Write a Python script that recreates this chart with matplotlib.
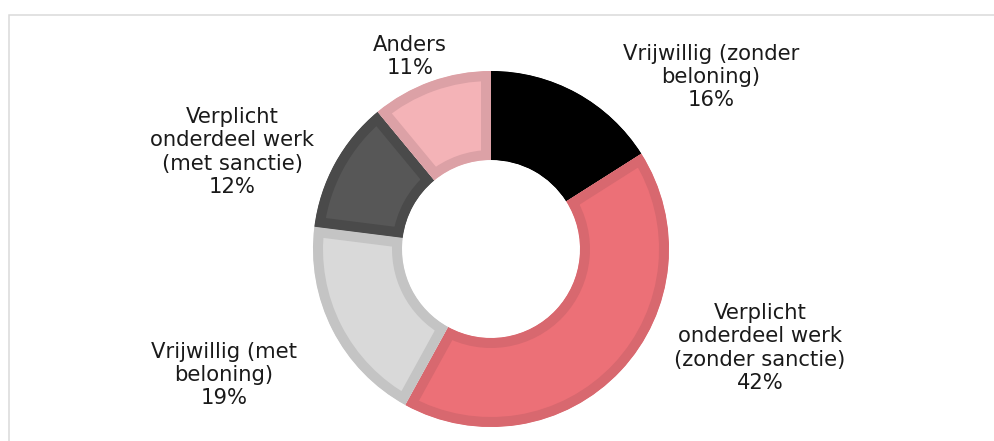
import matplotlib
matplotlib.use("Agg")
import matplotlib.pyplot as plt

# ---- data ----
categories = [
    "Vrijwillig (zonder\nbeloning)",
    "Verplicht\nonderdeel werk\n(zonder sanctie)",
    "Vrijwillig (met\nbeloning)",
    "Verplicht\nonderdeel werk\n(met sanctie)",
    "Anders",
]
values = [16, 42, 19, 12, 11]

# ---- styles ----
fill_colors = ["#000000", "#EC7077", "#D9D9D9", "#575757", "#F4B3B7"]
edge_colors = ["#000000", "#D8686F", "#C4C4C4", "#4A4A4A", "#DCA1A6"]
# label block centres in pixel coordinates (x, y from top)
label_pos = [(711, 77), (760, 348), (224, 375), (232, 152), (410, 56.5)]

W, H = 994, 441
DPI = 100
fig = plt.figure(figsize=(W / DPI, H / DPI), dpi=DPI)
ax = fig.add_axes([0, 0, 1, 1])

cx, cy = 491, H - 249
R_out, R_in = 178, 89
border_px = 10

wedges, _ = ax.pie(
    values,
    colors=fill_colors,
    startangle=90,
    counterclock=False,
    center=(cx, cy),
    radius=R_out,
    wedgeprops=dict(width=R_out - R_in),
)
for w, ec in zip(wedges, edge_colors):
    w.set_edgecolor(ec)
    w.set_linewidth(2 * border_px * 72 / DPI)
    w.set_joinstyle("miter")
    w.set_clip_path(w)
    w.set_clip_on(True)

for (x, y), cat, v in zip(label_pos, categories, values):
    ax.text(x, H - y, f"{cat}\n{v}%", ha="center", va="center",
            fontsize=15.2, color="#1a1a1a", linespacing=1.2,
            family="DejaVu Sans")

# frame (top and left edges visible)
ax.plot([8.5, 8.5, W + 5], [-5, H - 15, H - 15], color="#D9D9D9",
        lw=1.5 * 72 / DPI, solid_joinstyle="miter", clip_on=False)

ax.set_xlim(0, W)
ax.set_ylim(0, H)
ax.set_aspect("equal", adjustable="box")
ax.axis("off")

fig.savefig("out.png", dpi=DPI, facecolor="white")
